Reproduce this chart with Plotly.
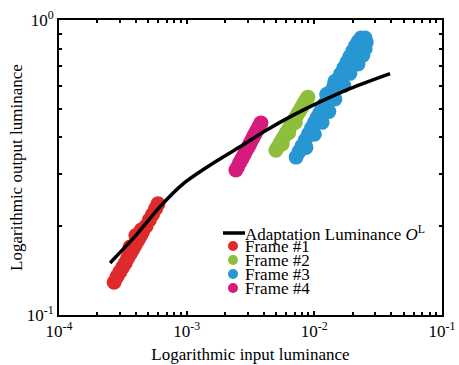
import plotly.graph_objects as go

# Adaptation luminance curve
adapt_x = [2.51e-4, 4.0e-4, 6.18e-4, 9.42e-4, 1.52e-3, 2.62e-3, 4.24e-3, 6.84e-3, 1.107e-2, 1.90e-2, 3.92e-2]
adapt_y = [0.150, 0.186, 0.233, 0.279, 0.322, 0.372, 0.424, 0.476, 0.528, 0.586, 0.659]

# Frame #1
f1_x = [2.70e-4, 2.85e-4, 3.0e-4, 3.15e-4, 3.3e-4, 3.45e-4, 3.6e-4, 3.75e-4, 3.9e-4, 4.05e-4, 4.2e-4, 4.35e-4, 4.5e-4, 4.8e-4, 5.1e-4, 5.4e-4, 5.7e-4, 5.96e-4, 3.6e-4, 4.0e-4, 4.4e-4]
f1_y = [0.129, 0.135, 0.140, 0.145, 0.150, 0.156, 0.161, 0.166, 0.171, 0.176, 0.181, 0.186, 0.191, 0.200, 0.210, 0.219, 0.229, 0.238, 0.170, 0.186, 0.194]

# Frame #2
f2_x = [5.0e-3, 5.2e-3, 5.4e-3, 5.6e-3, 5.8e-3, 6.0e-3, 6.2e-3, 6.4e-3, 6.6e-3, 6.8e-3, 7.0e-3, 7.25e-3, 7.5e-3, 7.75e-3, 8.0e-3, 8.25e-3, 8.5e-3, 8.7e-3, 8.9e-3, 5.6e-3, 6.3e-3, 7.1e-3]
f2_y = [0.362, 0.372, 0.383, 0.393, 0.403, 0.413, 0.422, 0.432, 0.442, 0.452, 0.461, 0.473, 0.485, 0.496, 0.508, 0.520, 0.531, 0.540, 0.548, 0.380, 0.415, 0.450]

# Frame #3
f3_x = [7.2e-3, 7.6e-3, 8.0e-3, 8.5e-3, 9.0e-3, 9.5e-3, 1.0e-2, 1.05e-2, 1.1e-2, 1.15e-2, 1.2e-2, 1.28e-2, 1.35e-2, 1.42e-2, 1.5e-2, 1.6e-2, 1.7e-2, 1.8e-2, 1.9e-2, 2.0e-2, 2.1e-2, 2.2e-2, 2.32e-2,
        8.6e-3, 1.0e-2, 1.15e-2, 1.3e-2, 1.45e-2, 1.7e-2, 1.9e-2, 2.2e-2, 2.4e-2, 2.5e-2, 2.55e-2, 2.5e-2, 1.25e-2, 1.45e-2]
f3_y = [0.343, 0.358, 0.374, 0.392, 0.411, 0.430, 0.448, 0.466, 0.484, 0.502, 0.519, 0.545, 0.571, 0.596, 0.622, 0.655, 0.688, 0.720, 0.753, 0.785, 0.816, 0.845, 0.870,
        0.370, 0.410, 0.450, 0.490, 0.540, 0.600, 0.660, 0.710, 0.760, 0.800, 0.840, 0.870, 0.560, 0.620]

# Frame #4
f4_x = [2.43e-3, 2.5e-3, 2.6e-3, 2.7e-3, 2.8e-3, 2.9e-3, 3.0e-3, 3.1e-3, 3.2e-3, 3.3e-3, 3.4e-3, 3.5e-3, 3.6e-3, 3.7e-3, 3.82e-3]
f4_y = [0.310, 0.317, 0.328, 0.338, 0.348, 0.358, 0.368, 0.378, 0.388, 0.398, 0.408, 0.418, 0.427, 0.437, 0.448]

names = ["Adaptation Luminance <i>O</i><sup>L</sup>", "Frame #1", "Frame #2", "Frame #3", "Frame #4"]
colors = ["#000000", "#DE2A2A", "#8DBF3C", "#2896D3", "#D51B7C"]

x_ticks = [1e-4, 1e-3, 1e-2, 1e-1]
x_ticktext = ["10<sup>-4</sup>", "10<sup>-3</sup>", "10<sup>-2</sup>", "10<sup>-1</sup>"]
y_ticks = [1e-1, 1e0]
y_ticktext = ["10<sup>-1</sup>", "10<sup>0</sup>"]
x_minor = [m * d for d in (1e-4, 1e-3, 1e-2) for m in range(2, 10)]
y_minor = [m * 1e-1 for m in range(2, 10)]

FONT = "Liberation Serif, Times New Roman, serif"

fig = go.Figure()
frames = [(f1_x, f1_y), (f2_x, f2_y), (f3_x, f3_y), (f4_x, f4_y)]
for i, (fx, fy) in enumerate(frames):
    fig.add_trace(go.Scatter(x=fx, y=fy, mode="markers", name=names[i + 1],
                             marker=dict(size=15, color=colors[i + 1], line=dict(width=0)),
                             showlegend=False))
fig.add_trace(go.Scatter(x=adapt_x, y=adapt_y, mode="lines", name=names[0],
                         line=dict(color="black", width=3.5, shape="spline", smoothing=0.8), showlegend=False))

# manual legend (compact spacing)
L = 59; T = 20; W = 383; H = 295
def px(x):
    return (x - L) / W
def py(y):
    return (T + H - y) / H

fig.add_shape(type="line", xref="paper", yref="paper", x0=px(223), x1=px(245), y0=py(233), y1=py(233),
              line=dict(color="black", width=3.5))
item_y = [233, 246, 260, 274, 288]
for i in range(1, 5):
    fig.add_shape(type="circle", xref="paper", yref="paper", xsizemode="pixel", ysizemode="pixel",
                  xanchor=px(233), yanchor=py(item_y[i]), x0=-5, x1=5, y0=-5, y1=5,
                  fillcolor=colors[i], line=dict(width=0))
for i in range(5):
    fig.add_annotation(xref="paper", yref="paper", x=px(244), y=py(item_y[i]), text=names[i],
                       showarrow=False, xanchor="left", yanchor="middle", borderpad=0,
                       font=dict(family=FONT, size=17, color="black"))

axis_common = dict(type="log", showgrid=False, zeroline=False, showline=True, linecolor="black", linewidth=2,
                   mirror="allticks", ticks="inside", ticklen=4, tickwidth=1.5, tickcolor="black",
                   tickfont=dict(family=FONT, size=17, color="black"))

fig.update_xaxes(**axis_common, range=[-4.0005, -0.9995], tickvals=x_ticks, ticktext=x_ticktext,
                 minor=dict(ticks="inside", ticklen=3, tickwidth=1.5, tickcolor="black", tickvals=x_minor, showgrid=False),
                 title=dict(text="Logarithmic input luminance", font=dict(family=FONT, size=17, color="black"), standoff=8))
fig.update_yaxes(**axis_common, range=[-1.0005, 0.0005], tickvals=y_ticks, ticktext=y_ticktext,
                 minor=dict(ticks="inside", ticklen=3, tickwidth=1.5, tickcolor="black", tickvals=y_minor, showgrid=False),
                 title=dict(text="Logarithmic output luminance", font=dict(family=FONT, size=17, color="black"), standoff=0))

fig.update_layout(width=459, height=365, margin=dict(l=59, r=17, t=20, b=50, autoexpand=False),
                  paper_bgcolor="white", plot_bgcolor="white", showlegend=False)

fig.write_html("out.html")
